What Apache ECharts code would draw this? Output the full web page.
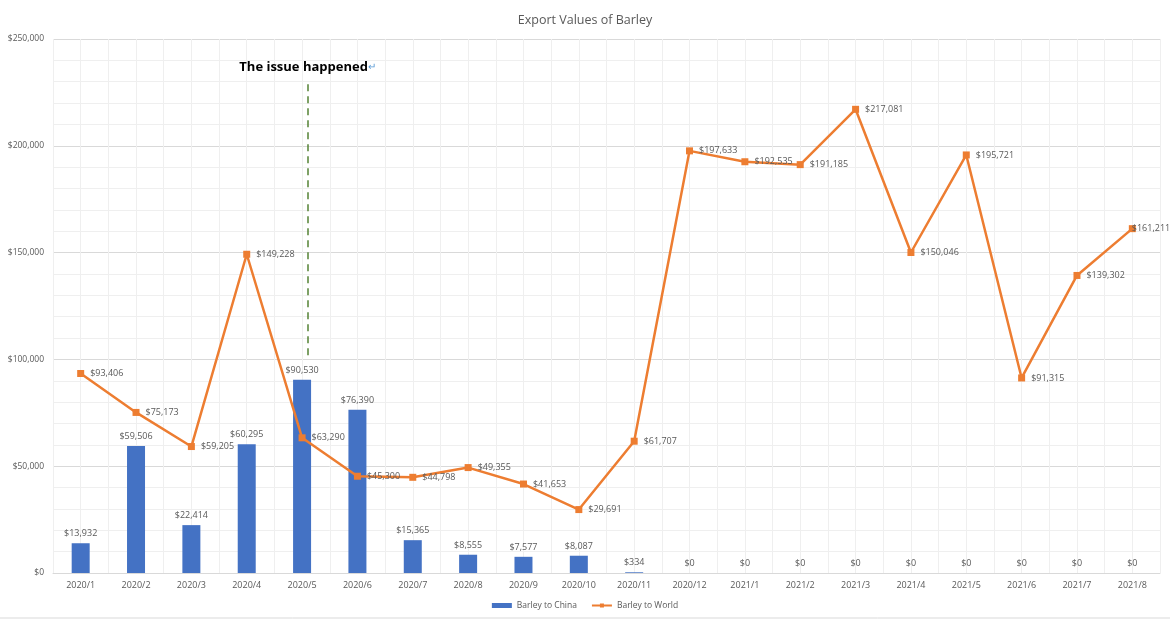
<!DOCTYPE html>
<html><head><meta charset="utf-8">
<script src="https://cdn.jsdelivr.net/npm/echarts@6/dist/echarts.min.js"></script>
<style>html,body{margin:0;padding:0;background:#fff}#c{width:1170px;height:621px}</style>
</head><body><div id="c"></div>
<script>
const categories = ['2020/1','2020/2','2020/3','2020/4','2020/5','2020/6','2020/7','2020/8','2020/9','2020/10','2020/11','2020/12','2021/1','2021/2','2021/3','2021/4','2021/5','2021/6','2021/7','2021/8'];
const chinaValues = [13932,59506,22414,60295,90530,76390,15365,8555,7577,8087,334,0,0,0,0,0,0,0,0,0];
const worldValues = [93406,75173,59205,149228,63290,45300,44798,49355,41653,29691,61707,197633,192535,191185,217081,150046,195721,91315,139302,161211];
const yTicks = {min:0, max:250000, interval:50000};
const eventCategory = '2020/5';
const eventRange = [102000, 231000];
const eventText = 'The issue happened';

const fmt = v => '$' + Math.round(v).toLocaleString('en-US');
const font = 'Open Sans';
const eventIdx = categories.indexOf(eventCategory) + 0.6;
const worldData = worldValues.map((v, i) => i === worldValues.length - 1
  ? {value: v, label: {distance: -4}} : v);
const chart = echarts.init(document.getElementById('c'));
chart.setOption({
  animation:false,
  textStyle:{fontFamily:font},
  title:{text:'Export Values of Barley',left:'center',top:9,textStyle:{fontSize:12.5,fontWeight:'normal',color:'#595959',fontFamily:font}},
  grid:{left:53,right:10,top:39,bottom:48},
  legend:{bottom:6,left:'center',itemGap:14,itemWidth:20,itemHeight:5,textStyle:{fontSize:8.5,color:'#595959'},
    data:[{name:'Barley to China',icon:'rect'},{name:'Barley to World'}]},
  xAxis:[
    {type:'category',data:categories,boundaryGap:true,
     axisLine:{lineStyle:{color:'#d9d9d9'}},axisTick:{show:false},
     axisLabel:{color:'#595959',fontSize:9,margin:8},splitLine:{show:false}},
    {type:'value',min:0,max:categories.length,interval:0.5,show:true,position:'bottom',
     axisLine:{show:false},axisTick:{show:false},axisLabel:{show:false},
     splitLine:{show:true,lineStyle:{color:'#efefef',width:1}}}
  ],
  yAxis:{type:'value',min:yTicks.min,max:yTicks.max,interval:yTicks.interval,
    axisLine:{show:false},axisTick:{show:false},
    axisLabel:{color:'#595959',fontSize:8.5,formatter:v=>fmt(v),margin:9},
    splitLine:{lineStyle:{color:'#d9d9d9'}},
    minorTick:{show:false,splitNumber:5},
    minorSplitLine:{show:true,lineStyle:{color:'#efefef'}}},
  series:[
    {name:'Barley to China',type:'bar',data:chinaValues,barWidth:18,z:3,
     itemStyle:{color:'#4472C4'},
     label:{show:true,position:'top',distance:5,color:'#595959',fontSize:9,formatter:p=>fmt(p.value)}},
    {name:'event',type:'line',xAxisIndex:1,data:[],silent:true,
     markLine:{symbol:'none',silent:true,
       lineStyle:{color:'#548235',type:[7,5],width:1.5},
       label:{show:true,position:'end',distance:6,formatter:'{t|'+eventText+'}{r|↵}',
         rich:{t:{fontSize:13,fontWeight:'bold',color:'#000',fontFamily:font},r:{fontSize:10,color:'#5b9bd5'}}},
       data:[[{coord:[eventIdx,eventRange[0]]},{coord:[eventIdx,eventRange[1]]}]]}},
    {name:'Barley to World',type:'line',data:worldData,z:4,
     symbol:'rect',symbolSize:7,
     lineStyle:{color:'#ED7D31',width:2.5},itemStyle:{color:'#ED7D31'},
     label:{show:true,position:'right',distance:6,color:'#595959',fontSize:9,formatter:p=>fmt(p.value)}}
  ],
  graphic:[
    {type:'line',shape:{x1:0,y1:618,x2:1170,y2:618},style:{stroke:'#d9d9d9',lineWidth:1}}
  ]
});
</script></body></html>
